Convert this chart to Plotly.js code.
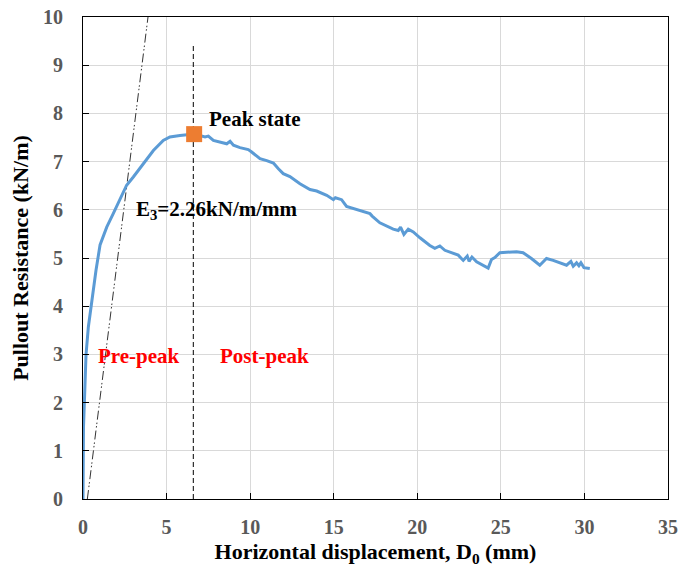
<!DOCTYPE html>
<html>
<head>
<meta charset="utf-8">
<script src="https://cdn.plot.ly/plotly-3.0.1.min.js"></script>
<style>html,body{margin:0;padding:0;background:#fff;}#chart{width:681px;height:567px;}</style>
</head>
<body>
<div id="chart"></div>
<script>
// Measured pullout curve
const dispMM = [0, 0.01, 0.03, 0.08, 0.18, 0.32, 0.52, 0.78, 1.02, 1.42, 1.81, 2.21, 2.61, 3.01, 3.61, 4.21, 4.8, 5.2, 5.8, 6.2, 6.65, 7.3, 7.5, 7.8, 8.6, 8.8, 9.0, 9.39, 9.89, 10.09, 10.59, 10.99, 11.39, 11.69, 11.98, 12.38, 12.98, 13.58, 13.98, 14.58, 14.98, 15.1, 15.47, 15.77, 16.57, 17.17, 17.3, 17.76, 18.56, 18.86, 19.0, 19.2, 19.46, 19.76, 20.16, 20.75, 21.05, 21.35, 21.65, 22.45, 22.75, 22.99, 23.1, 23.27, 23.55, 24.24, 24.44, 24.64, 24.94, 25.94, 26.33, 26.83, 27.33, 27.73, 28.13, 28.53, 28.93, 29.19, 29.33, 29.53, 29.67, 29.79, 29.97, 30.32];
const resistance = [0, 0.95, 1.5, 1.99, 2.99, 3.57, 4.13, 4.75, 5.27, 5.64, 5.92, 6.2, 6.51, 6.68, 6.96, 7.23, 7.44, 7.51, 7.54, 7.56, 7.57, 7.51, 7.53, 7.44, 7.37, 7.42, 7.34, 7.29, 7.25, 7.2, 7.06, 7.02, 6.97, 6.85, 6.75, 6.69, 6.54, 6.42, 6.39, 6.3, 6.21, 6.25, 6.21, 6.07, 5.99, 5.92, 5.87, 5.73, 5.6, 5.57, 5.64, 5.49, 5.6, 5.54, 5.42, 5.26, 5.2, 5.25, 5.16, 5.06, 4.95, 5.04, 4.93, 5.02, 4.92, 4.79, 4.97, 5.01, 5.11, 5.13, 5.11, 4.99, 4.85, 4.99, 4.95, 4.9, 4.85, 4.93, 4.83, 4.9, 4.84, 4.9, 4.8, 4.78];

// Secant stiffness line (E3)
const stiffX = [0.26, 3.89];
const stiffY = [0, 10];

// Peak state
const peakX = [6.65];
const peakY = [7.57];

// Peak divider line
const dividerX = [6.6, 6.6];
const dividerY = [0, 9.45];

// Axis ticks
const xTicks = [0, 5, 10, 15, 20, 25, 30, 35];
const yTicks = [0, 1, 2, 3, 4, 5, 6, 7, 8, 9, 10];

const serif = '"Liberation Serif", "Times New Roman", serif';

const traces = [
  {x: stiffX, y: stiffY, mode: 'lines', line: {color: '#333333', width: 1, dash: '9px,3px,1.5px,2px,1.5px,3px'}, hoverinfo: 'skip', showlegend: false},
  {x: dividerX, y: dividerY, mode: 'lines', line: {color: '#000000', width: 1, dash: '5px,3px'}, hoverinfo: 'skip', showlegend: false},
  {x: dispMM, y: resistance, mode: 'lines', line: {color: '#5b9bd5', width: 3}, showlegend: false},
  {x: peakX, y: peakY, mode: 'markers', marker: {symbol: 'square', size: 16, color: '#ed7d31'}, showlegend: false}
];

const axisCommon = {
  showline: true, mirror: true, linecolor: '#000000', linewidth: 1,
  showgrid: true, gridcolor: '#d9d9d9', gridwidth: 1,
  zeroline: false,
  ticks: 'inside', ticklen: 6, tickcolor: '#000000', tickwidth: 1,
  tickfont: {family: serif, size: 20, color: '#595959', weight: 'bold'}
};

const layout = {
  width: 681, height: 567,
  margin: {l: 83, r: 13, t: 17, b: 68},
  paper_bgcolor: '#ffffff', plot_bgcolor: '#ffffff',
  xaxis: Object.assign({}, axisCommon, {
    range: [0, 35], tickvals: xTicks, ticktext: xTicks.map(String),
    ticklabelstandoff: 10,
    automargin: false,
    title: {text: 'Horizontal displacement, D<sub>0</sub> (mm)', font: {family: serif, size: 22, color: '#000000', weight: 'bold'}, standoff: 7}
  }),
  yaxis: Object.assign({}, axisCommon, {
    range: [0, 10], tickvals: yTicks, ticktext: yTicks.map(String),
    ticklabelstandoff: 15,
    automargin: false,
    title: {text: 'Pullout Resistance (kN/m)', font: {family: serif, size: 22, color: '#000000', weight: 'bold'}, standoff: 8}
  }),
  annotations: [
    {x: 7.4, y: 7.89, xref: 'x', yref: 'y', xanchor: 'left', yanchor: 'middle', showarrow: false, text: 'Peak state', font: {family: serif, size: 21, color: '#000000', weight: 'bold'}},
    {x: 3.05, y: 6.0, xref: 'x', yref: 'y', xanchor: 'left', yanchor: 'middle', showarrow: false, text: 'E<sub>3</sub>=2.26kN/m/mm', font: {family: serif, size: 21, color: '#000000', weight: 'bold'}},
    {x: 0.75, y: 2.97, xref: 'x', yref: 'y', xanchor: 'left', yanchor: 'middle', showarrow: false, text: 'Pre-peak', font: {family: serif, size: 21, color: '#ff0000', weight: 'bold'}},
    {x: 8.05, y: 2.97, xref: 'x', yref: 'y', xanchor: 'left', yanchor: 'middle', showarrow: false, text: 'Post-peak', font: {family: serif, size: 21, color: '#ff0000', weight: 'bold'}}
  ]
};

Plotly.newPlot('chart', traces, layout, {displayModeBar: false, staticPlot: true});
</script>
</body>
</html>
